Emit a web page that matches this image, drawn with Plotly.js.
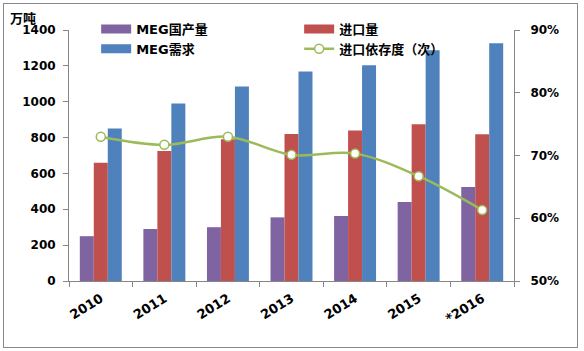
<!DOCTYPE html>
<html>
<head>
<meta charset="utf-8">
<script src="https://cdn.plot.ly/plotly-3.0.1.min.js"></script>
<style>
  html, body { margin: 0; padding: 0; background: #fff; }
  #wrap { position: relative; width: 584px; height: 351px; }
  #chart { position: absolute; left: 0; top: 0; width: 584px; height: 351px; }
  #frame { position: absolute; left: 3px; top: 3px; width: 575px; height: 345px;
           border: 1px solid #8a8a8a; box-sizing: border-box; pointer-events: none; }
</style>
</head>
<body>
<div id="wrap"><div id="chart"></div><div id="frame"></div></div>
<script>
const years = ['2010', '2011', '2012', '2013', '2014', '2015', '*2016'];
const domestic = [250, 290, 300, 355, 363, 440, 525];     // MEG国产量 (万吨)
const imports = [660, 725, 790, 820, 840, 875, 818];      // 进口量 (万吨)
const demand = [850, 990, 1085, 1168, 1204, 1287, 1326];  // MEG需求 (万吨)
const dependence = [0.730, 0.717, 0.730, 0.701, 0.703, 0.667, 0.613]; // 进口依存度

const names = ['MEG国产量', '进口量', 'MEG需求', '进口依存度（次）'];
const colors = ['#8064A2', '#C0504D', '#4F81BD', '#9BBB59'];
const fontFam = 'DejaVu Sans, Noto Sans CJK SC, sans-serif';

const barSeries = [domestic, imports, demand];
const traces = [];
barSeries.forEach((vals, i) => {
  traces.push({
    type: 'bar', x: years, y: vals, name: names[i],
    marker: { color: colors[i] }, showlegend: false, hoverinfo: 'skip'
  });
});
// legend-only entries (wide swatches like the original); no visible data
barSeries.forEach((vals, i) => {
  traces.push({
    type: 'scatter', mode: 'lines', x: [years[0]], y: [null], name: names[i],
    line: { color: colors[i], width: 9 }, showlegend: true, hoverinfo: 'skip'
  });
});
traces.push({
  type: 'scatter', mode: 'lines+markers', x: years, y: dependence, name: names[3],
  yaxis: 'y2',
  line: { color: colors[3], width: 2.5, shape: 'spline', smoothing: 1 },
  marker: { symbol: 'circle', size: 9, color: '#ffffff', line: { color: colors[3], width: 1.5 } },
  hoverinfo: 'skip'
});

const axisCommon = {
  showgrid: false, zeroline: false, showline: true, linecolor: '#868686', linewidth: 1,
  ticks: 'outside', ticklen: 5, tickcolor: '#868686', tickwidth: 1,
  tickfont: { family: fontFam, size: 12, color: '#000', weight: 'bold' }
};

const layout = {
  width: 584, height: 351,
  margin: { l: 69, r: 70, t: 30, b: 70 },
  paper_bgcolor: 'rgba(0,0,0,0)', plot_bgcolor: 'rgba(0,0,0,0)',
  font: { family: fontFam, size: 12, color: '#000', weight: 'bold' },
  barmode: 'group', bargap: 0.34, bargroupgap: 0,
  xaxis: Object.assign({}, axisCommon, {
    type: 'category', tickson: 'boundaries', tickangle: -32, ticklabelstandoff: 4,
    tickfont: { family: fontFam, size: 13, color: '#000', weight: 'bold' }
  }),
  yaxis: Object.assign({}, axisCommon, {
    range: [0, 1400], dtick: 200, tick0: 0, ticklabelstandoff: 5
  }),
  yaxis2: Object.assign({}, axisCommon, {
    overlaying: 'y', side: 'right', range: [0.5, 0.9], dtick: 0.1, tick0: 0.5,
    tickformat: '.0%', ticklabelstandoff: 8
  }),
  legend: {
    orientation: 'h', x: 0.061, xanchor: 'left', y: 1.064, yanchor: 'top',
    entrywidth: 158, entrywidthmode: 'pixels', itemwidth: 30,
    bgcolor: 'rgba(0,0,0,0)', borderwidth: 0, traceorder: 'normal',
    font: { family: fontFam, size: 13, color: '#000', weight: 'bold' }
  },
  annotations: [{
    text: '万吨', xref: 'paper', yref: 'paper', x: -0.103, y: 1.045,
    xanchor: 'center', yanchor: 'middle', showarrow: false,
    font: { family: fontFam, size: 13, color: '#000', weight: 'bold' }
  }]
};

Plotly.newPlot('chart', traces, layout, { staticPlot: true, displayModeBar: false });
</script>
</body>
</html>
